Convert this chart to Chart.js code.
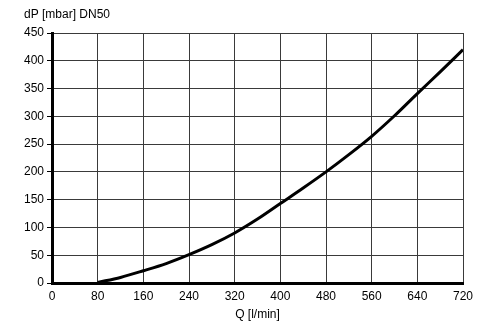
<!DOCTYPE html>
<html>
<head>
<meta charset="utf-8">
<script src="https://cdn.jsdelivr.net/npm/chart.js@4/dist/chart.umd.min.js"></script>
<style>
  html, body { margin: 0; padding: 0; background: #fff; }
  #wrap { width: 500px; height: 330px; }
</style>
</head>
<body>
<div id="wrap"><canvas id="dpChart" width="500" height="330"></canvas></div>
<script>
const flow = [80, 120, 160, 200, 240, 280, 320, 360, 400, 440, 480, 520, 560, 600, 640, 680, 720];
const pressure = [1, 10, 22, 35, 51, 69, 90, 115, 143, 171, 200, 231, 264, 301, 341, 380, 420];
const yTitle = 'dP [mbar] DN50';
const xTitle = 'Q [l/min]';

const font = { family: '"Liberation Sans", Arial, sans-serif', size: 12 };
const gridColor = '#3a3a3a';

const topTitle = {
  id: 'topTitle',
  afterDraw(chart) {
    const c = chart.ctx;
    c.save();
    c.font = '12px "Liberation Sans", Arial, sans-serif';
    c.fillStyle = '#000';
    c.textAlign = 'left';
    c.textBaseline = 'alphabetic';
    c.fillText(yTitle, 24, 18);
    c.restore();
  }
};

const ctx = document.getElementById('dpChart').getContext('2d');

new Chart(ctx, {
  type: 'line',
  data: {
    datasets: [{
      data: flow.map((q, i) => ({ x: q, y: pressure[i] })),
      borderColor: '#000',
      borderWidth: 3,
      pointRadius: 0,
      tension: 0.4,
      cubicInterpolationMode: 'monotone',
      fill: false
    }]
  },
  options: {
    responsive: false,
    animation: false,
    layout: { padding: { top: 33, right: 37, left: 0, bottom: 0 } },
    plugins: {
      legend: { display: false },
      tooltip: { enabled: false }
    },
    scales: {
      x: {
        type: 'linear',
        min: 0,
        max: 720,
        ticks: { stepSize: 80, color: '#000', font, padding: 6, maxRotation: 0 },
        grid: { color: gridColor, lineWidth: 1, drawTicks: false },
        border: { display: true, color: '#000', width: 3 },
        title: { display: true, text: xTitle, color: '#000', font, padding: { top: 0, bottom: 8 } },
        afterFit: s => { s.height = 47; }
      },
      y: {
        min: 0,
        max: 450,
        ticks: { stepSize: 50, color: '#000', font, padding: 3 },
        grid: { color: gridColor, lineWidth: 1, tickLength: 5, tickColor: '#000' },
        border: { display: true, color: '#000', width: 3 },
        afterFit: s => { s.width = 52; }
      }
    }
  },
  plugins: [topTitle]
});
</script>
</body>
</html>
